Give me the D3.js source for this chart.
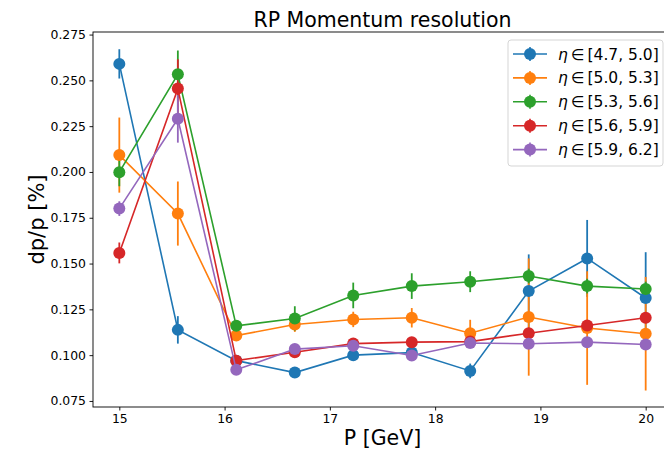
<!DOCTYPE html>
<html>
<head>
<meta charset="utf-8">
<script src="https://cdn.jsdelivr.net/npm/d3@7"></script>
<style>
  body { margin: 0; background: #fff; }
  svg { display: block; font-family: "DejaVu Sans", sans-serif; }
</style>
</head>
<body>
<div id="chart"></div>
<script>
//Momentum bins (GeV)
var momentum = [15, 15.556, 16.111, 16.667, 17.222, 17.778, 18.333, 18.889, 19.444, 20];

//Legend labels for each eta bin
var eta_bins = ["[4.7, 5.0]", "[5.0, 5.3]", "[5.3, 5.6]", "[5.6, 5.9]", "[5.9, 6.2]"];

//Resolution values per eta bin
var res_47_50 = [0.2590, 0.1138, 0.0970, 0.0905, 0.1000, 0.1014, 0.0914, 0.1350, 0.1528, 0.1312];
var res_50_53 = [0.2092, 0.1773, 0.1107, 0.1167, 0.1195, 0.1204, 0.1120, 0.1208, 0.1148, 0.1117];
var res_53_56 = [0.1999, 0.2533, 0.1160, 0.1200, 0.1326, 0.1377, 0.1401, 0.1432, 0.1377, 0.1361];
var res_56_59 = [0.1558, 0.2455, 0.0970, 0.1016, 0.1063, 0.1071, 0.1074, 0.1120, 0.1162, 0.1204];
var res_59_62 = [0.1800, 0.2290, 0.0920, 0.1033, 0.1051, 0.0998, 0.1066, 0.1062, 0.1071, 0.1058];

//Errors per eta bin
var err_47_50 = [0.0080, 0.0075, 0.0020, 0.0020, 0.0020, 0.0020, 0.0040, 0.0200, 0.0210, 0.0250];
var err_50_53 = [0.0205, 0.0175, 0.0030, 0.0040, 0.0042, 0.0053, 0.0073, 0.0320, 0.0310, 0.0310];
var err_53_56 = [0.0077, 0.0130, 0.0030, 0.0067, 0.0070, 0.0070, 0.0057, 0.0040, 0.0040, 0.0040];
var err_56_59 = [0.0057, 0.0160, 0.0020, 0.0020, 0.0020, 0.0020, 0.0020, 0.0030, 0.0030, 0.0030];
var err_59_62 = [0.0040, 0.0130, 0.0020, 0.0020, 0.0020, 0.0020, 0.0020, 0.0020, 0.0020, 0.0020];

var y_ticks = [0.075, 0.100, 0.125, 0.150, 0.175, 0.200, 0.225, 0.250, 0.275];
var x_ticks = [15, 16, 17, 18, 19, 20];

var colours = ["#1f77b4", "#ff7f0e", "#2ca02c", "#d62728", "#9467bd"];

//Build the series table from the arrays above
var all_res = [res_47_50, res_50_53, res_53_56, res_56_59, res_59_62],
    all_err = [err_47_50, err_50_53, err_53_56, err_56_59, err_59_62];

var series = eta_bins.map(function(label, i) {
    return {
        label: label,
        colour: colours[i],
        points: momentum.map(function(p, j) {
            return {p: p, v: all_res[i][j], e: all_err[i][j]};
        })
    };
});

var full_width = 664, full_height = 452;
var box = {left: 93, top: 32, right: 672, bottom: 407};

var x = d3.scaleLinear().domain([14.75, 20.25]).range([box.left, box.right]);
var y = d3.scaleLinear().domain([0.0717, 0.2764]).range([box.bottom, box.top]);

var svg = d3.select("#chart").append("svg")
    .attr("width", full_width)
    .attr("height", full_height);

//Axes
var xAxis = d3.axisBottom(x).tickValues(x_ticks).tickFormat(d3.format("d")).tickSize(3.5).tickPadding(3.5);
var yAxis = d3.axisLeft(y).tickValues(y_ticks).tickFormat(d3.format(".3f")).tickSize(3.5).tickPadding(3.5);

var gx = svg.append("g")
    .attr("transform", "translate(0," + box.bottom + ")")
    .call(xAxis);
var gy = svg.append("g")
    .attr("transform", "translate(" + box.left + ",0)")
    .call(yAxis);

[gx, gy].forEach(function(g) {
    g.select(".domain").remove();
    g.selectAll("line").attr("stroke", "#000").attr("stroke-width", 0.9);
    g.selectAll("text").attr("fill", "#000").style("font-size", "12.4px").style("font-family", "DejaVu Sans");
});

//Error bars first (under every line)
series.forEach(function(s) {
    svg.append("g")
        .selectAll("line")
        .data(s.points)
        .enter().append("line")
        .attr("x1", function(d) { return x(d.p); })
        .attr("x2", function(d) { return x(d.p); })
        .attr("y1", function(d) { return y(d.v - d.e); })
        .attr("y2", function(d) { return y(d.v + d.e); })
        .attr("stroke", s.colour)
        .attr("stroke-width", 1.8);
});

//Lines and markers
var line = d3.line()
    .x(function(d) { return x(d.p); })
    .y(function(d) { return y(d.v); });

series.forEach(function(s) {
    svg.append("path")
        .datum(s.points)
        .attr("d", line)
        .attr("fill", "none")
        .attr("stroke", s.colour)
        .attr("stroke-width", 1.6);

    svg.append("g")
        .selectAll("circle")
        .data(s.points)
        .enter().append("circle")
        .attr("cx", function(d) { return x(d.p); })
        .attr("cy", function(d) { return y(d.v); })
        .attr("r", 6)
        .attr("fill", s.colour);
});

//Spines
svg.append("rect")
    .attr("x", box.left)
    .attr("y", box.top)
    .attr("width", box.right - box.left)
    .attr("height", box.bottom - box.top)
    .attr("fill", "none")
    .attr("stroke", "#000")
    .attr("stroke-width", 0.9);

//Legend
var legend = svg.append("g").attr("transform", "translate(508,40)");
legend.append("rect")
    .attr("width", 155)
    .attr("height", 126)
    .attr("rx", 3)
    .attr("fill", "#fff")
    .attr("fill-opacity", 0.8)
    .attr("stroke", "#d5d5d5");

var entry = legend.selectAll(".entry")
    .data(series)
    .enter().append("g")
    .attr("class", "entry")
    .attr("transform", function(d, i) { return "translate(0," + (14 + i * 23.9) + ")"; });

entry.append("line")
    .attr("x1", 5).attr("x2", 39)
    .attr("stroke", function(d) { return d.colour; })
    .attr("stroke-width", 1.6);
entry.append("line")
    .attr("x1", 22).attr("x2", 22)
    .attr("y1", -7).attr("y2", 7)
    .attr("stroke", function(d) { return d.colour; })
    .attr("stroke-width", 1.6);
entry.append("circle")
    .attr("cx", 22)
    .attr("r", 6)
    .attr("fill", function(d) { return d.colour; });

var label = entry.append("text")
    .attr("x", 50)
    .attr("y", 5.5)
    .style("font-size", "15.5px")
    .attr("fill", "#000");
label.append("tspan").style("font-style", "italic").text("η");
label.append("tspan").text("\u2009∈\u2009" );
label.append("tspan").text(function(d) { return d.label; });

//Title
svg.append("text")
    .attr("x", (box.left + box.right) / 2)
    .attr("y", 26.5)
    .attr("text-anchor", "middle")
    .style("font-size", "20.5px")
    .text("RP Momentum resolution");

//X-axis label
svg.append("text")
    .attr("x", (box.left + box.right) / 2)
    .attr("y", 445)
    .attr("text-anchor", "middle")
    .style("font-size", "20.5px")
    .text("P [GeV]");

//Y-axis label
svg.append("text")
    .attr("transform", "translate(44," + ((box.top + box.bottom) / 2) + ") rotate(-90)")
    .attr("text-anchor", "middle")
    .style("font-size", "21px")
    .text("dp/p [%]");
</script>
</body>
</html>
